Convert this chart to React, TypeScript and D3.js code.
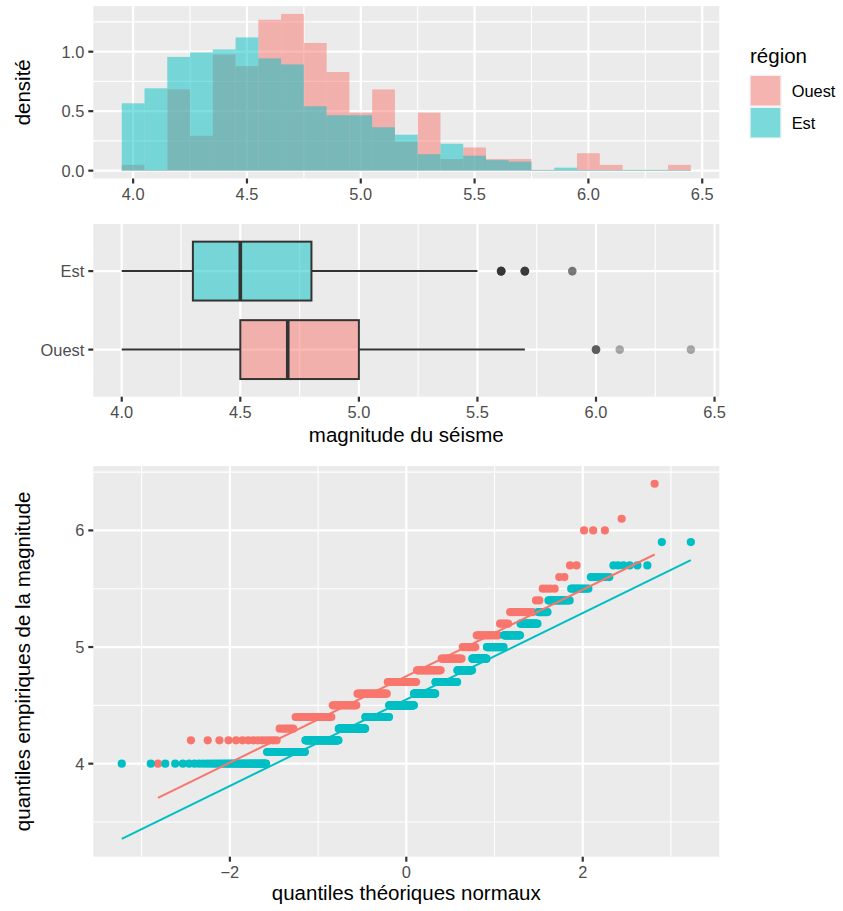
import * as d3 from "d3";

// magnitude classes (bin centres, width 0.1)
const magnitudes = [4.0, 4.1, 4.2, 4.3, 4.4, 4.5, 4.6, 4.7, 4.8, 4.9, 5.0, 5.1, 5.2, 5.3, 5.4, 5.5, 5.6, 5.7, 5.8, 5.9, 6.0, 6.1, 6.2, 6.3, 6.4];
const countsOuest = [1, 0, 14, 6, 20, 18, 26, 27, 22, 17, 10, 14, 5, 10, 2, 4, 2, 2, 0, 0, 3, 1, 0, 0, 1];
const countsEst = [45, 55, 76, 79, 81, 89, 75, 71, 43, 37, 37, 29, 24, 11, 18, 10, 7, 6, 0, 2, 0, 0, 0, 0, 0];

const regions = ["Ouest", "Est"];
const regionColors = ["#F8766D", "#00BFC4"];

const histXTicks = [4.0, 4.5, 5.0, 5.5, 6.0, 6.5];
const histYTicks = [0, 0.5, 1.0];
const qqXTicks = [-2, 0, 2];
const qqYTicks = [4, 5, 6];

const W = 843;
const H = 911;
const FONT = "'Liberation Sans', Arial, Helvetica, sans-serif";
const TICK_FS = 16.4;
const TITLE_FS = 20.5;
const LEFT = 93.3;
const RIGHT = 719.3;
const PANEL_BG = "#EBEBEB";
const TXT = "#4D4D4D";

// inverse normal cdf (Acklam), used for the qq stat
function qnorm(p: number) {
  const a = [-39.69683028665376, 220.9460984245205, -275.9285104469687, 138.357751867269, -30.66479806614716, 2.506628277459239];
  const b = [-54.47609879822406, 161.5858368580409, -155.6989798598866, 66.80131188771972, -13.28068155288572];
  const c = [-0.007784894002430293, -0.3223964580411365, -2.400758277161838, -2.549732539343734, 4.374664141464968, 2.938163982698783];
  const d = [0.007784695709041462, 0.3224671290700398, 2.445134137142996, 3.754408661907416];
  const pl = 0.02425;
  if (p < pl) {
    const q = Math.sqrt(-2 * Math.log(p));
    return (((((c[0] * q + c[1]) * q + c[2]) * q + c[3]) * q + c[4]) * q + c[5]) / ((((d[0] * q + d[1]) * q + d[2]) * q + d[3]) * q + 1);
  }
  if (p > 1 - pl) {
    const q = Math.sqrt(-2 * Math.log(1 - p));
    return -(((((c[0] * q + c[1]) * q + c[2]) * q + c[3]) * q + c[4]) * q + c[5]) / ((((d[0] * q + d[1]) * q + d[2]) * q + d[3]) * q + 1);
  }
  const q = p - 0.5;
  const r = q * q;
  return ((((((a[0] * r + a[1]) * r + a[2]) * r + a[3]) * r + a[4]) * r + a[5]) * q) / (((((b[0] * r + b[1]) * r + b[2]) * r + b[3]) * r + b[4]) * r + 1);
}

const groups = [countsOuest, countsEst].map((counts, gi) => {
  const n = d3.sum(counts);
  const sample = magnitudes.flatMap((m, i) => d3.range(counts[i]).map(() => m));
  const dens = counts.map((c) => c / (n * 0.1));
  const q1 = d3.quantile(sample, 0.25)!;
  const med = d3.quantile(sample, 0.5)!;
  const q3 = d3.quantile(sample, 0.75)!;
  const iqr = q3 - q1;
  const inside = sample.filter((v) => v >= q1 - 1.5 * iqr && v <= q3 + 1.5 * iqr);
  const outliers = sample.filter((v) => v < q1 - 1.5 * iqr || v > q3 + 1.5 * iqr);
  const theo = sample.map((_, i) => qnorm((i + 1 - 0.5) / n));
  const slope = (q3 - q1) / (qnorm(0.75) - qnorm(0.25));
  const intercept = q1 - slope * qnorm(0.25);
  const xr = d3.extent(theo) as [number, number];
  return {
    name: regions[gi],
    color: regionColors[gi],
    n,
    sample,
    dens,
    q1,
    med,
    q3,
    wlo: d3.min(inside)!,
    whi: d3.max(inside)!,
    outliers,
    theo,
    line: xr.map((x) => ({ x, y: intercept + slope * x })),
  };
});

function expand([a, b]: [number, number], f = 0.05): [number, number] {
  const r = b - a;
  return [a - r * f, b + r * f];
}

function minors(major: number[], domain: [number, number]) {
  const step = major[1] - major[0];
  const out: number[] = [];
  for (let v = major[0] - step / 2; v <= major[major.length - 1] + step / 2 + 1e-9; v += step) {
    if (v >= domain[0] && v <= domain[1]) out.push(v);
  }
  return out;
}

function Grid({ x, y, xMajor, yMajor, xMinor, yMinor, top, bottom }: any) {
  return (
    <g>
      <rect x={LEFT} y={top} width={RIGHT - LEFT} height={bottom - top} fill={PANEL_BG} />
      {xMinor.map((v: number) => (
        <line key={"xm" + v} x1={x(v)} x2={x(v)} y1={top} y2={bottom} stroke="#fff" strokeWidth={1.1} />
      ))}
      {yMinor.map((v: number) => (
        <line key={"ym" + v} x1={LEFT} x2={RIGHT} y1={y(v)} y2={y(v)} stroke="#fff" strokeWidth={1.1} />
      ))}
      {xMajor.map((v: number) => (
        <line key={"xM" + v} x1={x(v)} x2={x(v)} y1={top} y2={bottom} stroke="#fff" strokeWidth={2.2} />
      ))}
      {yMajor.map((v: number) => (
        <line key={"yM" + v} x1={LEFT} x2={RIGHT} y1={y(v)} y2={y(v)} stroke="#fff" strokeWidth={2.2} />
      ))}
    </g>
  );
}

function XAxis({ x, ticks, bottom, fmt }: any) {
  return (
    <g>
      {ticks.map((v: number) => (
        <g key={v}>
          <line x1={x(v)} x2={x(v)} y1={bottom} y2={bottom + 5} stroke="#333" strokeWidth={2.2} />
          <text x={x(v)} y={bottom + 21} textAnchor="middle" fontSize={TICK_FS} fill={TXT} fontFamily={FONT}>
            {fmt(v)}
          </text>
        </g>
      ))}
    </g>
  );
}

function YAxis({ y, ticks, fmt }: any) {
  return (
    <g>
      {ticks.map((v: any) => (
        <g key={String(v)}>
          <line x1={LEFT - 5} x2={LEFT} y1={y(v)} y2={y(v)} stroke="#333" strokeWidth={2.2} />
          <text x={LEFT - 9} y={y(v) + 5.9} textAnchor="end" fontSize={TICK_FS} fill={TXT} fontFamily={FONT}>
            {fmt(v)}
          </text>
        </g>
      ))}
    </g>
  );
}

export default function App() {
  // ---------- histogram ----------
  const hTop = 6.1;
  const hBottom = 178.5;
  const hxDom = expand([magnitudes[0] - 0.05, magnitudes[magnitudes.length - 1] + 0.05]);
  const hx = d3.scaleLinear().domain(hxDom).range([LEFT, RIGHT]);
  const maxDens = d3.max(groups, (g) => d3.max(g.dens))!;
  const hyDom: [number, number] = [-0.05 * maxDens, 1.05 * maxDens];
  const hy = d3.scaleLinear().domain(hyDom).range([hBottom, hTop]);

  // ---------- boxplot ----------
  const bTop = 224;
  const bBottom = 396.7;
  const allVals = groups.flatMap((g) => g.sample);
  const bxDom = expand(d3.extent(allVals) as [number, number]);
  const bx = d3.scaleLinear().domain(bxDom).range([LEFT, RIGHT]);
  const by = d3.scalePoint<string>().domain(["Est", "Ouest"]).range([bTop, bBottom]).padding(0.6);
  const boxHalf = by.step() * 0.375;

  // ---------- qq ----------
  const qTop = 466;
  const qBottom = 856.7;
  const qxDom = expand(d3.extent(groups.flatMap((g) => g.theo)) as [number, number]);
  const qyDom = expand(
    d3.extent([...allVals, ...groups.flatMap((g) => g.line.map((p) => p.y))]) as [number, number]
  );
  const qx = d3.scaleLinear().domain(qxDom).range([LEFT, RIGHT]);
  const qy = d3.scaleLinear().domain(qyDom).range([qBottom, qTop]);
  const qline = d3
    .line<{ x: number; y: number }>()
    .x((d) => qx(d.x))
    .y((d) => qy(d.y));

  const f1 = d3.format(".1f");
  const fq = (v: number) => (v < 0 ? "\u2212" + Math.abs(v) : String(v));
  const midX = (LEFT + RIGHT) / 2;

  return (
    <svg width={W} height={H} style={{ position: "absolute", left: 0, top: 0, background: "#fff" }} fontFamily={FONT}>
      {/* histogram panel */}
      <Grid
        x={hx}
        y={hy}
        xMajor={histXTicks}
        yMajor={histYTicks}
        xMinor={minors(histXTicks, hxDom)}
        yMinor={minors(histYTicks, hyDom)}
        top={hTop}
        bottom={hBottom}
      />
      {groups.map((g) => (
        <g key={g.name} fill={g.color} fillOpacity={0.5}>
          {magnitudes.map((m, i) => {
            const y0 = hy(0);
            const y1 = hy(g.dens[i]);
            return (
              <rect
                key={m}
                x={hx(m - 0.05)}
                width={hx(m + 0.05) - hx(m - 0.05)}
                y={Math.min(y1, y0 - 0.8)}
                height={Math.max(y0 - y1, 0.8)}
              />
            );
          })}
        </g>
      ))}
      <XAxis x={hx} ticks={histXTicks} bottom={hBottom} fmt={f1} />
      <YAxis y={hy} ticks={histYTicks} fmt={f1} />
      <text
        transform={`translate(30,${(hTop + hBottom) / 2}) rotate(-90)`}
        textAnchor="middle"
        fontSize={TITLE_FS}
        fill="#000"
      >
        densité
      </text>

      {/* legend */}
      <text x={750} y={63} fontSize={TITLE_FS} fill="#000">
        région
      </text>
      {groups.map((g, i) => {
        const ky = 74.7 + i * 32;
        return (
          <g key={g.name}>
            <rect x={749.3} y={ky} width={32.4} height={32} fill="#F2F2F2" />
            <rect x={750.7} y={ky + 1.3} width={29.6} height={29.4} fill={g.color} fillOpacity={0.5} />
            <text x={791.7} y={ky + 16 + 5.9} fontSize={TICK_FS} fill="#000">
              {g.name}
            </text>
          </g>
        );
      })}

      {/* boxplot panel */}
      <Grid
        x={bx}
        y={by}
        xMajor={histXTicks}
        yMajor={["Est", "Ouest"]}
        xMinor={minors(histXTicks, bxDom)}
        yMinor={[]}
        top={bTop}
        bottom={bBottom}
      />
      {groups.map((g) => {
        const cy = by(g.name)!;
        return (
          <g key={g.name}>
            <line x1={bx(g.wlo)} x2={bx(g.q1)} y1={cy} y2={cy} stroke="#333" strokeWidth={2} />
            <line x1={bx(g.q3)} x2={bx(g.whi)} y1={cy} y2={cy} stroke="#333" strokeWidth={2} />
            <rect
              x={bx(g.q1)}
              y={cy - boxHalf}
              width={bx(g.q3) - bx(g.q1)}
              height={boxHalf * 2}
              fill={g.color}
              fillOpacity={0.5}
              stroke="#333"
              strokeWidth={2}
            />
            <line x1={bx(g.med)} x2={bx(g.med)} y1={cy - boxHalf} y2={cy + boxHalf} stroke="#333" strokeWidth={3.6} />
            {g.outliers.map((v, i) => (
              <circle key={i} cx={bx(v)} cy={cy} r={4.3} fill="#333" fillOpacity={0.4} />
            ))}
          </g>
        );
      })}
      <XAxis x={bx} ticks={histXTicks} bottom={bBottom} fmt={f1} />
      <YAxis y={by} ticks={["Est", "Ouest"]} fmt={(v: string) => v} />
      <text x={midX} y={442} textAnchor="middle" fontSize={TITLE_FS} fill="#000">
        magnitude du séisme
      </text>

      {/* qq panel */}
      <Grid
        x={qx}
        y={qy}
        xMajor={qqXTicks}
        yMajor={qqYTicks}
        xMinor={minors(qqXTicks, qxDom)}
        yMinor={minors(qqYTicks, qyDom)}
        top={qTop}
        bottom={qBottom}
      />
      {groups.map((g) => (
        <g key={g.name} fill={g.color}>
          {g.sample.map((v, i) => (
            <circle key={i} cx={qx(g.theo[i])} cy={qy(v)} r={4.1} />
          ))}
        </g>
      ))}
      {groups.map((g) => (
        <path key={g.name} d={qline(g.line)!} fill="none" stroke={g.color} strokeWidth={2} />
      ))}
      <XAxis x={qx} ticks={qqXTicks} bottom={qBottom} fmt={fq} />
      <YAxis y={qy} ticks={qqYTicks} fmt={String} />
      <text x={midX} y={900} textAnchor="middle" fontSize={TITLE_FS} fill="#000">
        quantiles théoriques normaux
      </text>
      <text
        transform={`translate(30,${(qTop + qBottom) / 2}) rotate(-90)`}
        textAnchor="middle"
        fontSize={TITLE_FS}
        fill="#000"
      >
        quantiles empiriques de la magnitude
      </text>
    </svg>
  );
}
